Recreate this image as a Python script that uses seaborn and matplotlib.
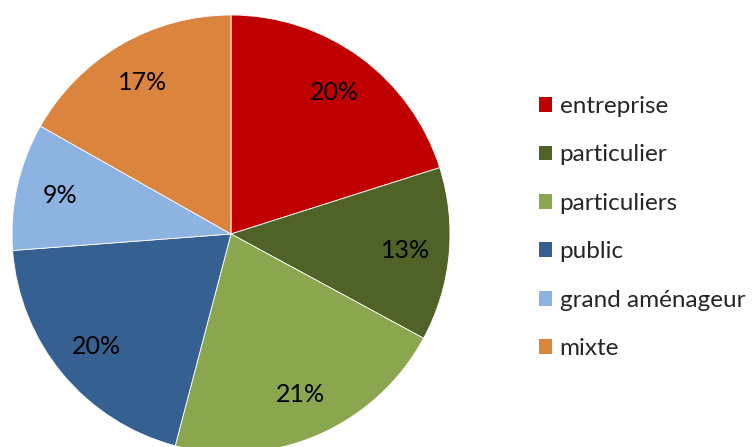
import matplotlib
matplotlib.use("Agg")
import matplotlib.pyplot as plt
import seaborn as sns
from matplotlib.patches import Patch

categories = ["entreprise", "particulier", "particuliers", "public", "grand aménageur", "mixte"]
values = [20.1, 12.8, 21.2, 19.7, 9.4, 16.8]
colors = ["#C00000", "#4F6228", "#8AA64F", "#366092", "#8DB3E2", "#DB843D"]

sns.set_theme(style="white")
plt.rcParams["font.family"] = ["Lato", "DejaVu Sans"]

fig = plt.figure(figsize=(7.54, 4.47), dpi=100)
ax = fig.add_axes([12 / 754, -6 / 447, 438 / 754, 438 / 447])
wedges, texts, autotexts = ax.pie(
    values,
    colors=colors,
    startangle=90,
    counterclock=False,
    radius=1,
    autopct="%.0f%%",
    pctdistance=0.80,
    wedgeprops=dict(linewidth=0.6, edgecolor="white"),
    textprops=dict(fontsize=18, color="black"),
)
ax.set_xlim(-1, 1)
ax.set_ylim(-1, 1)
ax.set_aspect("equal")
ax.axis("off")

handles = [Patch(facecolor=c, edgecolor="none") for c in colors]
fig.legend(
    handles,
    categories,
    loc="upper left",
    bbox_to_anchor=(539 / 754, 1 - 96 / 447),
    frameon=False,
    fontsize=17.5,
    handlelength=0.55,
    handleheight=0.55,
    handletextpad=0.3,
    labelspacing=1.13,
    borderaxespad=0,
    borderpad=0,
)

fig.savefig("out.png", dpi=100)
